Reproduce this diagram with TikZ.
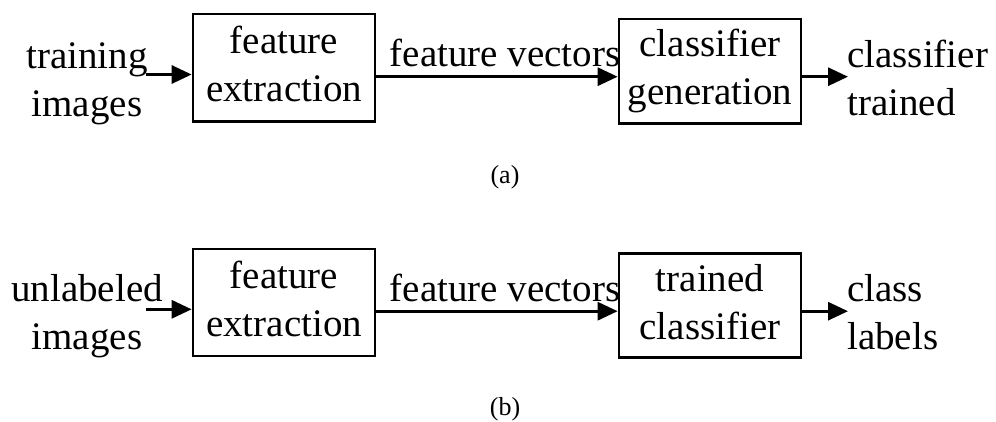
\documentclass[tikz,border=0pt]{standalone}
\usepackage{fontspec}
\setmainfont{Liberation Serif}
\usetikzlibrary{arrows.meta}
\tikzset{
  box/.style={draw, line width=2.7pt, inner sep=0pt, minimum width=182pt, align=center,
    font=\fontsize{39}{48}\selectfont},
  lbl/.style={inner sep=0pt, font=\fontsize{39}{48}\selectfont},
  captext/.style={inner sep=0pt, anchor=base, font=\fontsize{26}{30}\selectfont},
  arr/.style={line width=3pt, -{Triangle[length=20pt,width=18pt]}},
}
\begin{document}
\begin{tikzpicture}[x=1pt,y=-1pt]
\useasboundingbox (0,0) rectangle (996,421);
% ---- (a) ----
\node[box, minimum height=107.7pt] (fea) at (284,67.8) {\strut feature\\\strut extraction};
\node[box, minimum height=104.3pt] (cga) at (710,71.2) {\strut classifier\\\strut generation};
\node[lbl, align=center] (tia) at (87,82.6) {\strut training\\\strut images};
\node[lbl, align=left, anchor=west] (cta) at (847,81.4) {\strut classifier\\\strut trained};
\node[lbl, anchor=base] (fva) at (505,66) {feature vectors};
\node[captext] (capa) at (505,183) {(a)};
\coordinate (ina) at (146,74.5);
\coordinate (outa) at (848,76.7);
\draw[arr] (ina) -- (ina -| fea.west);
\draw[arr] (fea.east |- outa) -- (cga.west |- outa);
\draw[arr] (cga.east |- outa) -- (outa);
% ---- (b) ----
\node[box, minimum height=107pt] (feb) at (284,302.5) {\strut feature\\\strut extraction};
\node[box, minimum height=104.4pt] (tcb) at (710,305.5) {\strut trained\\\strut classifier};
\node[lbl, align=center] (uib) at (87,316.1) {\strut unlabeled\\\strut images};
\node[lbl, align=left, anchor=west] (clb) at (847,316.1) {\strut class\\\strut labels};
\node[lbl, anchor=base] (fvb) at (505,301.7) {feature vectors};
\node[captext] (capb) at (505,415) {(b)};
\coordinate (inb) at (146,309.3);
\coordinate (outb) at (848,311.2);
\draw[arr] (inb) -- (inb -| feb.west);
\draw[arr] (feb.east |- outb) -- (tcb.west |- outb);
\draw[arr] (tcb.east |- outb) -- (outb);
\end{tikzpicture}
\end{document}
